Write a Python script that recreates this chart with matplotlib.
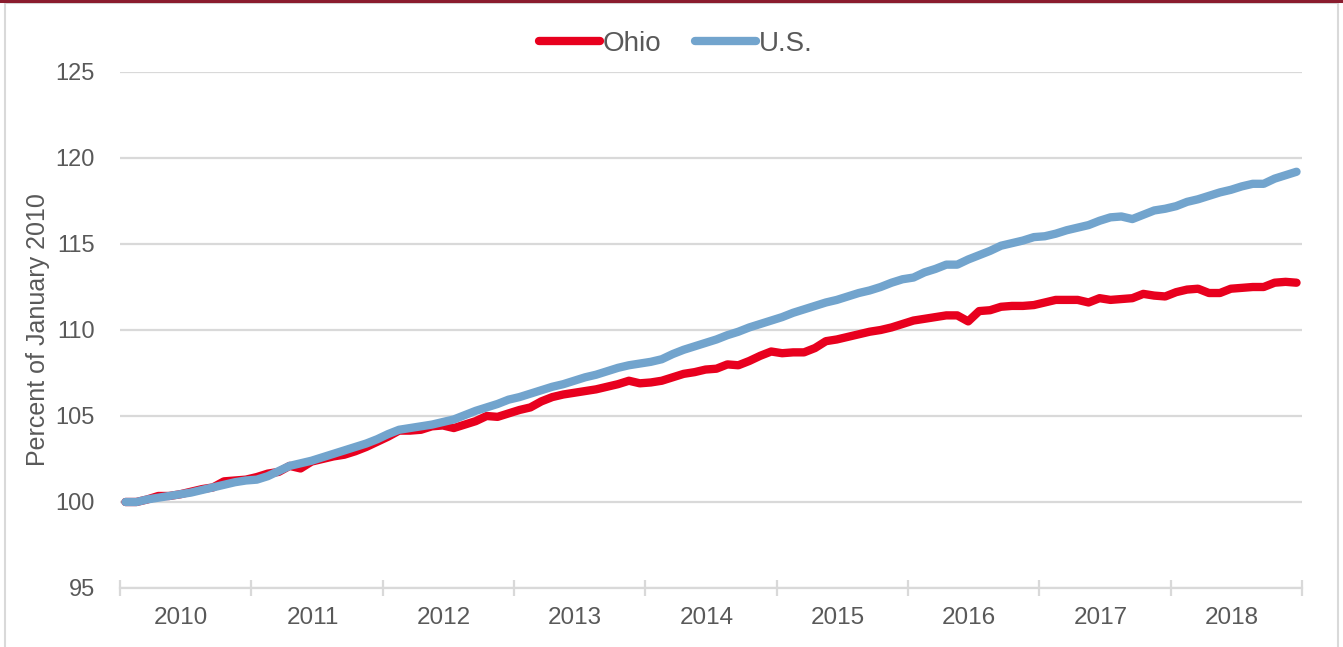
import matplotlib
matplotlib.use("Agg")
import matplotlib.pyplot as plt
from matplotlib.patches import Rectangle
from matplotlib.lines import Line2D

plt.rcParams['font.family'] = ['Liberation Sans', 'DejaVu Sans']

years = ['2010', '2011', '2012', '2013', '2014', '2015', '2016', '2017', '2018']

# monthly index, Jan 2010 = 100
ohio = [100.0, 100.0, 100.15, 100.35, 100.35, 100.45, 100.6, 100.75, 100.85, 101.2, 101.25, 101.3,
        101.45, 101.65, 101.75, 102.1, 101.95, 102.35, 102.5, 102.65, 102.75, 102.95, 103.2, 103.5,
        103.8, 104.15, 104.15, 104.2, 104.4, 104.45, 104.3, 104.5, 104.7, 105.0, 104.95, 105.15,
        105.35, 105.5, 105.85, 106.1, 106.25, 106.35, 106.45, 106.55, 106.7, 106.85, 107.05, 106.9,
        106.95, 107.05, 107.25, 107.45, 107.55, 107.7, 107.75, 108.0, 107.95, 108.2, 108.5, 108.75,
        108.65, 108.7, 108.7, 108.95, 109.35, 109.45, 109.6, 109.75, 109.9, 110.0, 110.15, 110.35,
        110.55, 110.65, 110.75, 110.85, 110.85, 110.5, 111.1, 111.15, 111.35, 111.4, 111.4, 111.45,
        111.6, 111.75, 111.75, 111.75, 111.6, 111.85, 111.75, 111.8, 111.85, 112.1, 112.0, 111.95,
        112.2, 112.35, 112.4, 112.15, 112.15, 112.4, 112.45, 112.5, 112.5, 112.75, 112.8, 112.75]

us = [100.0, 100.0, 100.15, 100.25, 100.35, 100.45, 100.55, 100.7, 100.85, 101.0, 101.15, 101.25,
      101.3, 101.5, 101.8, 102.1, 102.25, 102.4, 102.6, 102.8, 103.0, 103.2, 103.4, 103.65,
      103.95, 104.2, 104.3, 104.4, 104.5, 104.65, 104.8, 105.05, 105.3, 105.5, 105.7, 105.95,
      106.1, 106.3, 106.5, 106.7, 106.85, 107.05, 107.25, 107.4, 107.6, 107.8, 107.95, 108.05,
      108.15, 108.3, 108.6, 108.85, 109.05, 109.25, 109.45, 109.7, 109.9, 110.15, 110.35, 110.55,
      110.75, 111.0, 111.2, 111.4, 111.6, 111.75, 111.95, 112.15, 112.3, 112.5, 112.75, 112.95,
      113.05, 113.35, 113.55, 113.8, 113.8, 114.1, 114.35, 114.6, 114.9, 115.05, 115.2, 115.4,
      115.45, 115.6, 115.8, 115.95, 116.1, 116.35, 116.55, 116.6, 116.45, 116.7, 116.95, 117.05,
      117.2, 117.45, 117.6, 117.8, 118.0, 118.15, 118.35, 118.5, 118.5, 118.8, 119.0, 119.2]

red = '#E8001E'
blue = '#72A4CD'
grid = '#D9D9D9'
txt = '#595959'

fig = plt.figure(figsize=(13.43, 6.47), dpi=100)
ax = fig.add_axes([120 / 1343, 1 - 588 / 647, 1182 / 1343, 516 / 647])

months = list(range(len(us)))
ax.plot(months, ohio, color=red, lw=6, solid_capstyle='round', label='Ohio')
ax.plot(months, us, color=blue, lw=6, solid_capstyle='round', label='U.S.')

ax.set_xlim(-0.5, len(us) - 0.5)
ax.set_ylim(95, 125)
ax.set_yticks([95, 100, 105, 110, 115, 120, 125])
ax.yaxis.grid(True, color=grid, lw=1.6)
ax.set_axisbelow(True)

ax.set_xticks([-0.5 + 12 * k for k in range(len(years) + 1)])
ax.set_xticklabels([])
ax.set_xticks([5.1 + 12 * k for k in range(len(years))], minor=True)
ax.set_xticklabels(years, minor=True)
ax.tick_params(axis='x', which='major', direction='inout', length=11, width=1.6, color=grid)
ax.tick_params(axis='x', which='minor', length=0, pad=14, labelsize=17.5, labelcolor=txt)
ax.tick_params(axis='y', length=0, pad=18, labelsize=17, labelcolor=txt)

for s in ['top', 'right', 'left']:
    ax.spines[s].set_visible(False)
ax.spines['bottom'].set_color(grid)
ax.spines['bottom'].set_linewidth(1.6)

ax.set_ylabel('Percent of January 2010', fontsize=18, color=txt, labelpad=4)

handles = [Line2D([], [], color=red, lw=6, solid_capstyle='round'),
           Line2D([], [], color=blue, lw=6, solid_capstyle='round')]
fig.legend(handles, ['Ohio', 'U.S.'], loc='center', bbox_to_anchor=(0.503, 1 - 44 / 647),
           ncol=2, frameon=False, fontsize=20, labelcolor=txt, handlelength=2.2,
           handletextpad=0.1, columnspacing=1.2)

# outer frame
fig.patches.append(Rectangle((5 / 1343, -0.01), 1333 / 1343, 1 - 3 / 647 + 0.01,
                             transform=fig.transFigure, fill=False, edgecolor=grid, lw=1.5))
fig.add_artist(Line2D([0, 1], [1 - 1.2 / 647, 1 - 1.2 / 647], transform=fig.transFigure,
                      color='#8A1C2E', lw=2.2))

fig.savefig('out.png', dpi=100)
